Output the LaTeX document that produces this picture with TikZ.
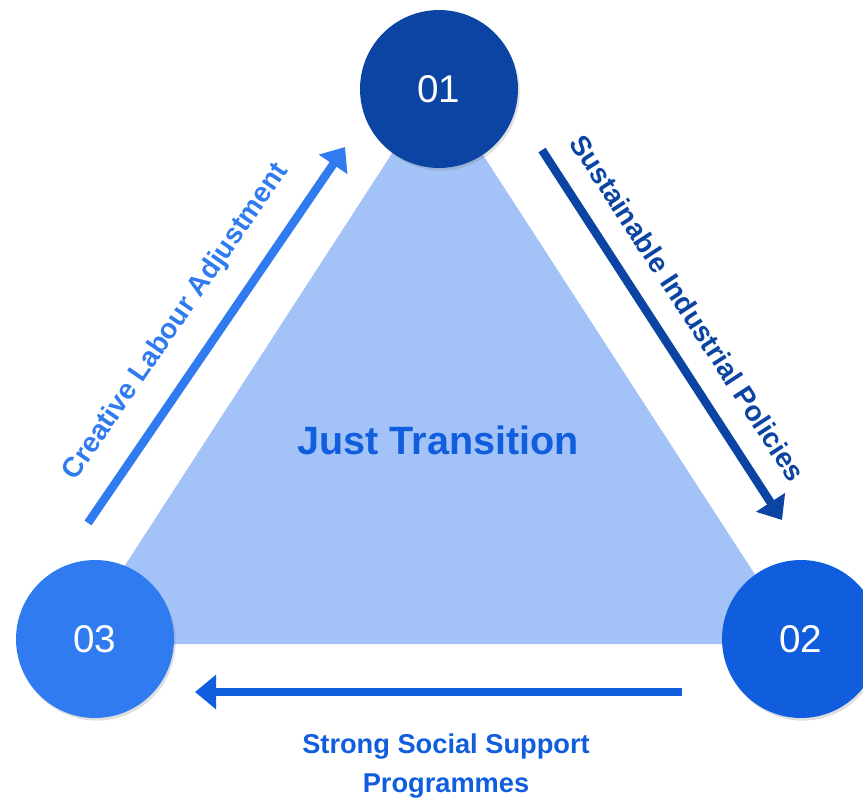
\documentclass[tikz,border=0pt]{standalone}
\usepackage{fontspec}
\setmainfont{Liberation Sans}
\usetikzlibrary{arrows.meta,shadows}
\definecolor{buocmot}{HTML}{0B44A3}
\definecolor{buochai}{HTML}{105DDD}
\definecolor{buocba}{HTML}{2F7BEF}
\definecolor{tamgiac}{HTML}{A2C2F8}
\tikzset{
  sotron/.style={circle, minimum size=3.16cm, inner sep=0pt, text=white,
    font=\fontsize{22}{26}\selectfont,
    drop shadow={opacity=0.25, shadow xshift=1pt, shadow yshift=-1.5pt}},
  muiten/.style={line width=4.8pt, -{Triangle[length=12pt,width=19pt]}},
  nhan/.style={font=\bfseries\fontsize{16}{19}\selectfont}
}
\begin{document}
\begin{tikzpicture}[x=0.02cm, y=-0.02cm]
		\useasboundingbox (0,0) rectangle (863,798);
		\clip (0,0) rectangle (863,798);
		\coordinate (dinh) at (437,84);
		\coordinate (trai) at (74,644);
		\coordinate (phai) at (800,644);
		\fill[tamgiac] (dinh) -- (trai) -- (phai) -- cycle;
		\node[font=\bfseries\fontsize{22.5}{26}\selectfont, text=buochai] (tieude) at (438,440) {Just Transition};
		% ba vong tron
		\node[sotron, fill=buocmot] (mot) at (439,89) {01};
		\node[sotron, fill=buochai] (hai) at (801,639) {02};
		\node[sotron, fill=buocba] (ba) at (95,639) {03};
		% mui ten
		\coordinate (a1) at (88,523);
		\coordinate (a2) at (345,147);
		\coordinate (b1) at (542,150);
		\coordinate (b2) at (782,520);
		\coordinate (c1) at (682,692);
		\coordinate (c2) at (195,692);
		\draw[muiten, buocba] (a1) -- (a2);
		\draw[muiten, buocmot] (b1) -- (b2);
		\draw[muiten, buochai] (c1) -- (c2);
		\node[nhan, text=buocba, rotate=55.6] (nhantrai) at (176,322) {Creative Labour Adjustment};
		\node[nhan, text=buocmot, rotate=-57] (nhanphai) at (688,308) {Sustainable Industrial Policies};
		\node[font=\bfseries\fontsize{15.5}{22.7}\selectfont, text=buochai, align=center] (nhanduoi) at (446,766) {Strong Social Support\\Programmes};
	\end{tikzpicture}
\end{document}
